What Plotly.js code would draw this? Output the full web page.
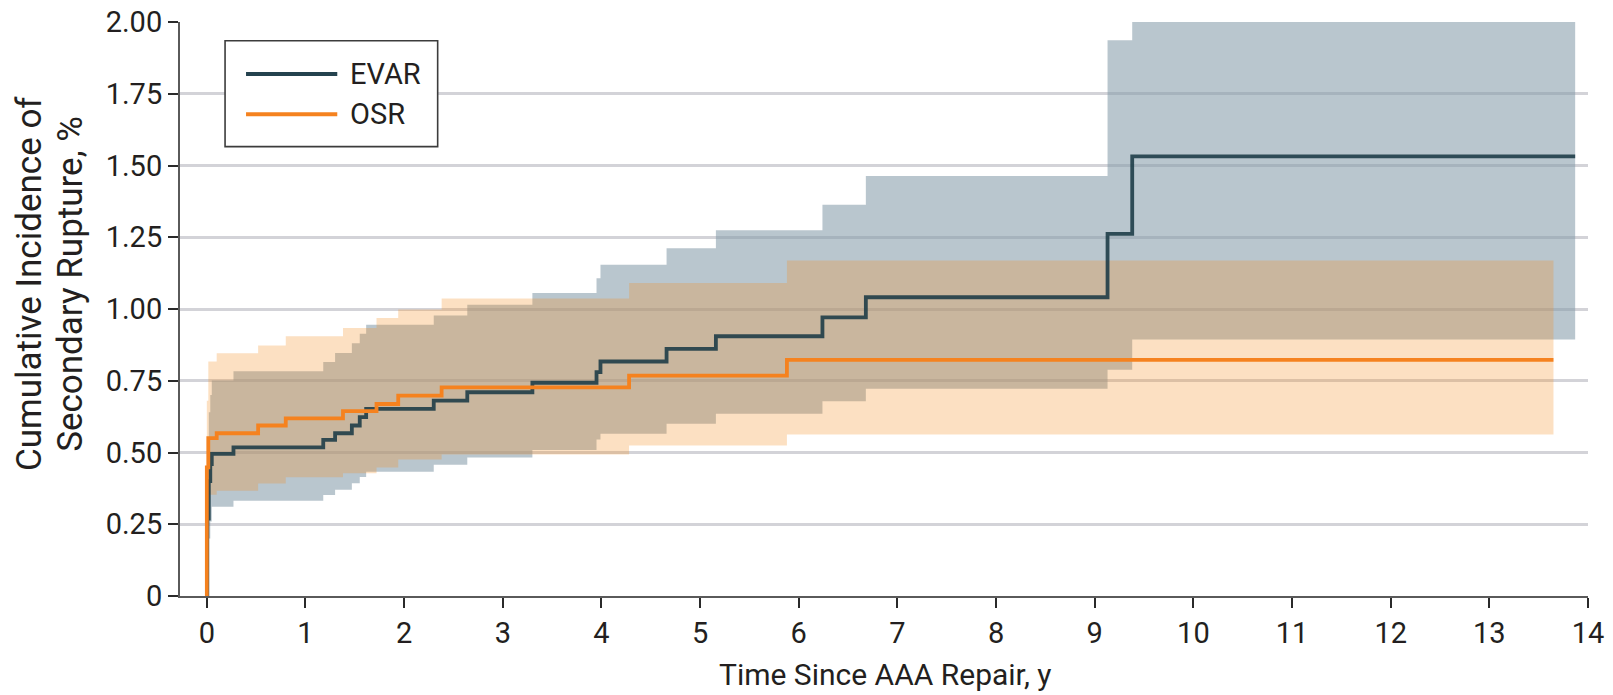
<!DOCTYPE html>
<html>
<head>
<meta charset="utf-8">
<script src="https://cdn.plot.ly/plotly-3.0.1.min.js"></script>
<style>
  html, body { margin: 0; padding: 0; background: #ffffff; }
  #chart { width: 1613px; height: 695px; }
</style>
</head>
<body>
<div id="chart"></div>
<script>
// Cumulative incidence of secondary rupture after AAA repair, step estimates with 95% CI bands.

const seriesNames = ['EVAR', 'OSR'];

// EVAR: event times (years), estimate and confidence limits (%)
const evarTime  = [0, 0.005, 0.02, 0.035, 0.05, 0.27, 1.18, 1.30, 1.47, 1.55, 1.615, 2.30, 2.64, 3.30, 3.95, 3.99, 4.66, 5.16, 6.24, 6.68, 9.13, 9.38, 13.87];
const evarEst   = [0, 0.27, 0.40, 0.46, 0.495, 0.518, 0.544, 0.567, 0.594, 0.623, 0.652, 0.681, 0.710, 0.743, 0.780, 0.817, 0.861, 0.905, 0.971, 1.041, 1.262, 1.532, 1.532];
const evarLower = [0, 0.10, 0.20, 0.26, 0.311, 0.332, 0.352, 0.370, 0.393, 0.415, 0.433, 0.457, 0.483, 0.509, 0.545, 0.565, 0.600, 0.635, 0.679, 0.722, 0.788, 0.894, 0.894];
const evarUpper = [0, 0.55, 0.64, 0.70, 0.751, 0.783, 0.815, 0.847, 0.881, 0.914, 0.945, 0.977, 1.015, 1.056, 1.107, 1.154, 1.212, 1.274, 1.363, 1.463, 1.936, 2.0, 2.0];

// OSR: event times (years), estimate and confidence limits (%)
const osrTime  = [0, 0, 0.015, 0.10, 0.52, 0.80, 1.38, 1.72, 1.94, 2.38, 4.28, 5.88, 13.65];
const osrEst   = [0, 0.448, 0.55, 0.567, 0.594, 0.619, 0.644, 0.669, 0.698, 0.727, 0.768, 0.823, 0.823];
const osrLower = [0, 0.30, 0.353, 0.367, 0.392, 0.414, 0.428, 0.448, 0.476, 0.493, 0.524, 0.563, 0.563];
const osrUpper = [0, 0.68, 0.817, 0.846, 0.873, 0.905, 0.934, 0.969, 0.998, 1.037, 1.091, 1.169, 1.169];

// Axis ticks
const xTickVals = [0, 1, 2, 3, 4, 5, 6, 7, 8, 9, 10, 11, 12, 13, 14];
const yTickVals = [0, 0.25, 0.5, 0.75, 1.0, 1.25, 1.5, 1.75, 2.0];
const yTickText = ['0', '0.25', '0.50', '0.75', '1.00', '1.25', '1.50', '1.75', '2.00'];

const xTitle = 'Time Since AAA Repair, y';
const yTitleLines = ['Cumulative Incidence of', 'Secondary Rupture, %'];

const FONT = 'Roboto, "Liberation Sans", Arial, sans-serif';
const TEXT_COLOR = '#231f20';
const EVAR_LINE = '#24424e';
const EVAR_LINE_PLOT = 'rgba(26,58,70,0.88)';
const EVAR_FILL = 'rgba(130,153,168,0.56)';
const OSR_LINE = '#f5821f';
const OSR_FILL = 'rgba(244,141,30,0.27)';

function bandLower(x, y) {
  return { x: x, y: y, type: 'scatter', mode: 'lines', line: { width: 0, shape: 'hv' },
           hoverinfo: 'skip', showlegend: false };
}
function bandUpper(x, y, color) {
  return { x: x, y: y, type: 'scatter', mode: 'lines', line: { width: 0, shape: 'hv' },
           fill: 'tonexty', fillcolor: color, hoverinfo: 'skip', showlegend: false };
}
function estLine(x, y, color, name) {
  return { x: x, y: y, type: 'scatter', mode: 'lines', name: name,
           line: { width: 3.8, shape: 'hv', color: color }, hoverinfo: 'skip', showlegend: false };
}

// Bands first, then the step estimates on top (OSR last)
const data = [
  bandLower(evarTime, evarLower),
  bandUpper(evarTime, evarUpper, EVAR_FILL),
  bandLower(osrTime, osrLower),
  bandUpper(osrTime, osrUpper, OSR_FILL),
  estLine(evarTime, evarEst, EVAR_LINE_PLOT, seriesNames[0]),
  estLine(osrTime, osrEst, OSR_LINE, seriesNames[1])
];

// Hand-built legend box with long line samples
const legendShapes = [
  { type: 'rect', xref: 'paper', yref: 'paper', x0: 0.032, x1: 0.183, y0: 0.7828, y1: 0.9674,
    line: { color: '#3c3c3c', width: 1.6 }, fillcolor: 'rgba(255,255,255,1)', layer: 'above' },
  { type: 'line', xref: 'paper', yref: 'paper', x0: 0.0469, x1: 0.1117, y0: 0.9094, y1: 0.9094,
    line: { color: EVAR_LINE, width: 4 }, layer: 'above' },
  { type: 'line', xref: 'paper', yref: 'paper', x0: 0.0469, x1: 0.1117, y0: 0.8392, y1: 0.8392,
    line: { color: OSR_LINE, width: 4 }, layer: 'above' }
];

const annotations = [
  { xref: 'paper', yref: 'paper', x: 0.1193, y: 0.9094, xanchor: 'left', yanchor: 'middle',
    text: seriesNames[0], showarrow: false, font: { family: FONT, size: 29, color: TEXT_COLOR } },
  { xref: 'paper', yref: 'paper', x: 0.1193, y: 0.8392, xanchor: 'left', yanchor: 'middle',
    text: seriesNames[1], showarrow: false, font: { family: FONT, size: 29, color: TEXT_COLOR } },
  { xref: 'paper', yref: 'paper', x: 0.501, y: -0.1359, xanchor: 'center', yanchor: 'middle',
    text: xTitle, showarrow: false, font: { family: FONT, size: 30, color: TEXT_COLOR } },
  { xref: 'paper', yref: 'paper', x: -0.1065, y: 0.5436, xanchor: 'center', yanchor: 'middle',
    text: yTitleLines[0], textangle: -90, showarrow: false, font: { family: FONT, size: 35, color: TEXT_COLOR } },
  { xref: 'paper', yref: 'paper', x: -0.0775, y: 0.5436, xanchor: 'center', yanchor: 'middle',
    text: yTitleLines[1], textangle: -90, showarrow: false, font: { family: FONT, size: 35, color: TEXT_COLOR } }
];

const layout = {
  width: 1613,
  height: 695,
  margin: { l: 180, r: 25, t: 22, b: 99, pad: 0 },
  paper_bgcolor: '#ffffff',
  plot_bgcolor: '#ffffff',
  font: { family: FONT, size: 29, color: TEXT_COLOR },
  showlegend: false,
  xaxis: {
    range: [-0.272, 14.0],
    tickvals: xTickVals,
    ticks: 'outside', ticklen: 10, tickwidth: 2, tickcolor: '#2a2a2a',
    showline: true, linecolor: '#5a5a5a', linewidth: 2,
    showgrid: false, zeroline: false,
    tickfont: { family: FONT, size: 29, color: TEXT_COLOR },
    fixedrange: true
  },
  yaxis: {
    range: [0, 2.0],
    tickvals: yTickVals,
    ticktext: yTickText,
    ticks: 'outside', ticklen: 10, tickwidth: 2, tickcolor: '#2a2a2a',
    showline: true, linecolor: '#5a5a5a', linewidth: 2,
    showgrid: true, gridcolor: '#d3d3d8', gridwidth: 3,
    zeroline: false,
    tickfont: { family: FONT, size: 29, color: TEXT_COLOR },
    fixedrange: true
  },
  shapes: legendShapes,
  annotations: annotations
};

Plotly.newPlot('chart', data, layout, { displayModeBar: false, staticPlot: true });
</script>
</body>
</html>
